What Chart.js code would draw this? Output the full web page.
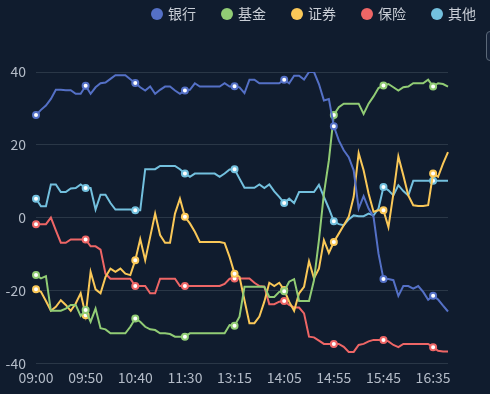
<!DOCTYPE html>
<html>
<head>
<meta charset="utf-8">
<title>板块走势</title>
<script src="https://cdn.jsdelivr.net/npm/chart.js@4.4.0/dist/chart.umd.min.js"></script>
<style>
  html, body { margin: 0; padding: 0; background: #101c2e; overflow: hidden; }
  .chart-box { position: relative; width: 490px; height: 394px; }
  .tool-btn {
    position: absolute; left: 486px; top: 31px; width: 24px; height: 28px;
    border: 1px solid #5b6878; border-radius: 4px; background: #17243a;
  }
</style>
</head>
<body>
<div class="chart-box">
  <canvas id="sectorChart"></canvas>
  <div class="tool-btn"></div>
</div>
<script>
// trading sessions, 5 minute steps
const sessions = [["09:00", "11:30"], ["12:30", "16:50"]];
const stepMinutes = 5;
const labelEvery = 10;

const bank = [
  28.2, 29.6, 30.8, 32.6, 35.1, 35.1, 35, 35, 34, 34,
  36.2, 34, 35.8, 36.9, 37.1, 38.1, 39.1, 39.1, 39.1, 38,
  37, 35.8, 34.9, 36, 34, 35.1, 36, 36, 34.9, 34,
  34.9, 35.1, 36.9, 36, 36, 36, 36, 36, 36.9, 36,
  36.1, 35.8, 34.2, 37.9, 37.9, 36.9, 36.9, 36.9, 36.9, 36.9,
  37.9, 36.9, 39, 39, 37.9, 40, 40, 36.7, 32.2, 32.6,
  25.1, 21.2, 18.5, 16.6, 13, 2.5, 5.9, 2.5, 0.2, -9.9,
  -16.9, -16.9, -17.2, -21.5, -18.8, -18.8, -19.5, -18.8, -20.4, -22.6,
  -21.5, -22.5, -24.2, -25.8
];
const fund = [
  -15.8, -16.7, -16.1, -25.6, -25.6, -25.6, -25, -24, -24, -27,
  -25.4, -28.6, -25, -30.4, -30.7, -31.8, -31.8, -31.8, -31.8, -30,
  -27.7, -28.6, -30, -30.7, -30.9, -31.8, -31.8, -32, -32.7, -32.7,
  -32.7, -31.8, -31.8, -31.8, -31.8, -31.8, -31.8, -31.8, -31.8, -29.5,
  -29.7, -27.2, -19, -19, -19, -19, -19, -21.8, -21.8, -20.4,
  -20.2, -17.6, -16.9, -22.9, -22.9, -22.9, -17.2, -6.2, 6.6, 15.7,
  28.2, 30.3, 31.3, 31.3, 31.3, 31.3, 28.5, 31.3, 33.3, 35.6,
  36.3, 36.7, 35.8, 34.9, 35.8, 36, 36.9, 36.9, 36.9, 37.9,
  36, 36.9, 36.7, 36
];
const broker = [
  -19.7, -20.4, -22.9, -25.6, -24.5, -22.7, -24, -25.6, -23.6, -20.8,
  -26.8, -14.9, -19.7, -20.8, -16.3, -14, -14.9, -14, -15.4, -15.8,
  -11.7, -5.9, -11.7, -5.3, 1.1, -4.8, -6.9, -6.9, 1.1, 5.2,
  0.2, -1.6, -3.9, -6.7, -6.7, -6.7, -6.7, -6.7, -7, -10.8,
  -15.4, -16.3, -22.7, -29, -29, -27.2, -23.1, -17.9, -18.8, -17.9,
  -19.9, -23.1, -25.6, -20.8, -19, -12, -16.7, -14, -6.2, -9.7,
  -6.7, -4.4, -2.1, 0.2, 5.7, 17.7, 13, 6.6, 1.6, 2,
  2, -2.6, 6.6, 16.8, 11.6, 6.1, 3.4, 3.2, 3.2, 3.4,
  12.1, 11.2, 14.8, 18
];
const insurance = [
  -1.8, -1.8, -1.8, 0, -3.5, -6.9, -6.9, -6, -6, -6,
  -6, -7.9, -7.9, -8.8, -15.4, -16.8, -16.8, -16.8, -16.8, -16.8,
  -18.8, -18.8, -18.8, -20.8, -20.8, -16.8, -16.8, -16.8, -16.8, -18.8,
  -18.8, -18.8, -18.8, -18.8, -18.8, -18.8, -18.8, -18.8, -18.2, -16.8,
  -16.7, -16.7, -16.7, -16.7, -17.9, -18.8, -19, -23.8, -23.8, -23.1,
  -22.9, -24, -24.7, -24.7, -26.3, -32.7, -32.9, -33.8, -34.7, -34.7,
  -34.7, -34.7, -35.5, -36.9, -36.9, -35, -34.7, -34, -33.6, -33.6,
  -33.6, -34, -35, -35.6, -34.7, -34.7, -34.7, -34.7, -34.7, -34.7,
  -35.6, -36.6, -36.8, -36.8
];
const other = [
  5.2, 3.1, 3.1, 9.1, 9.1, 7, 7, 8, 8.1, 9.1,
  8.1, 8.1, 2.2, 6.3, 6.3, 4, 2.2, 2.2, 2.2, 2.2,
  2, 2, 13.3, 13.3, 13.3, 14.2, 14.2, 14.2, 14.2, 13.3,
  12.1, 11.2, 12.1, 12.1, 12.1, 12.1, 12.1, 11.2, 12.1, 13.2,
  13.3, 10.7, 8.2, 8.2, 8.2, 9.1, 8.1, 9.1, 7.2, 5.7,
  4, 5.2, 4, 7, 7, 7, 7, 9, 5.7, 2.5,
  -1, -1.8, -2.1, -0.5, 0.6, 0.4, 0.4, 1.1, 0.6, 2.5,
  8.4, 7.5, 6.1, 8.9, 7.3, 6.1, 10.1, 10.1, 10.1, 10.1,
  10.1, 10.1, 10.1, 10.1
];

const seriesNames = ["银行", "基金", "证券", "保险", "其他"];
const seriesValues = [bank, fund, broker, insurance, other];
const seriesColors = ["#5470c6", "#91cc75", "#fac858", "#ee6666", "#73c0de"];

function toMin(t) {
  const [h, m] = t.split(":").map(Number);
  return h * 60 + m;
}
function buildTimes(ranges, step) {
  const out = [];
  ranges.forEach(([from, to]) => {
    for (let m = toMin(from); m <= toMin(to); m += step) {
      out.push(String(Math.floor(m / 60)).padStart(2, "0") + ":" + String(m % 60).padStart(2, "0"));
    }
  });
  return out;
}
const times = buildTimes(sessions, stepMinutes);

const fontFamily = '"Noto Sans CJK SC", "Noto Sans", sans-serif';
const textColor = "#b4bcc8";

// move legend up to the top right corner
const legendOffset = { x: 55, y: -41 };
const nudgeLegend = {
  id: "nudgeLegend",
  afterLayout(chart) {
    const lg = chart.legend;
    lg.left += legendOffset.x;
    lg.right += legendOffset.x;
    lg.top += legendOffset.y;
    lg.bottom += legendOffset.y;
  },
};

const ctx = document.getElementById("sectorChart").getContext("2d");

new Chart(ctx, {
  type: "line",
  data: {
    labels: times,
    datasets: seriesNames.map((name, i) => ({
      label: name,
      data: seriesValues[i],
      borderColor: seriesColors[i],
      backgroundColor: seriesColors[i],
      borderWidth: 2,
      tension: 0,
      fill: false,
      pointRadius: (c) => (c.dataIndex % labelEvery === 0 ? 3 : 0),
      pointBorderWidth: 2,
      pointBorderColor: seriesColors[i],
      pointBackgroundColor: "#ffffff",
    })),
  },
  options: {
    responsive: true,
    maintainAspectRatio: false,
    animation: false,
    layout: {
      padding: { left: 0, right: 42, top: 21, bottom: 2 },
    },
    plugins: {
      legend: {
        position: "top",
        align: "end",
        labels: {
          usePointStyle: true,
          pointStyle: "circle",
          boxWidth: 8,
          boxHeight: 8.5,
          padding: 27,
          color: "#c9ced6",
          font: { size: 14, family: fontFamily },
          generateLabels(chart) {
            const items = Chart.defaults.plugins.legend.labels.generateLabels(chart);
            items.forEach((it) => {
              it.fillStyle = chart.data.datasets[it.datasetIndex].borderColor;
              it.lineWidth = 0;
            });
            return items;
          },
        },
      },
      tooltip: { enabled: false },
    },
    scales: {
      x: {
        grid: { display: false, drawTicks: false },
        border: { display: false },
        ticks: {
          autoSkip: false,
          maxRotation: 0,
          minRotation: 0,
          padding: 6,
          color: textColor,
          font: { size: 14, family: fontFamily },
          callback: function (value, index) {
            return index % labelEvery === 0 ? this.getLabelForValue(value) : "";
          },
        },
      },
      y: {
        min: -40,
        max: 40,
        border: { display: false },
        grid: { color: "#2a3747", drawTicks: false },
        ticks: {
          stepSize: 20,
          padding: 10,
          color: textColor,
          font: { size: 14, family: fontFamily },
        },
        afterFit(scale) {
          scale.width = 36;
        },
      },
    },
  },
  plugins: [nudgeLegend],
});
</script>
</body>
</html>
